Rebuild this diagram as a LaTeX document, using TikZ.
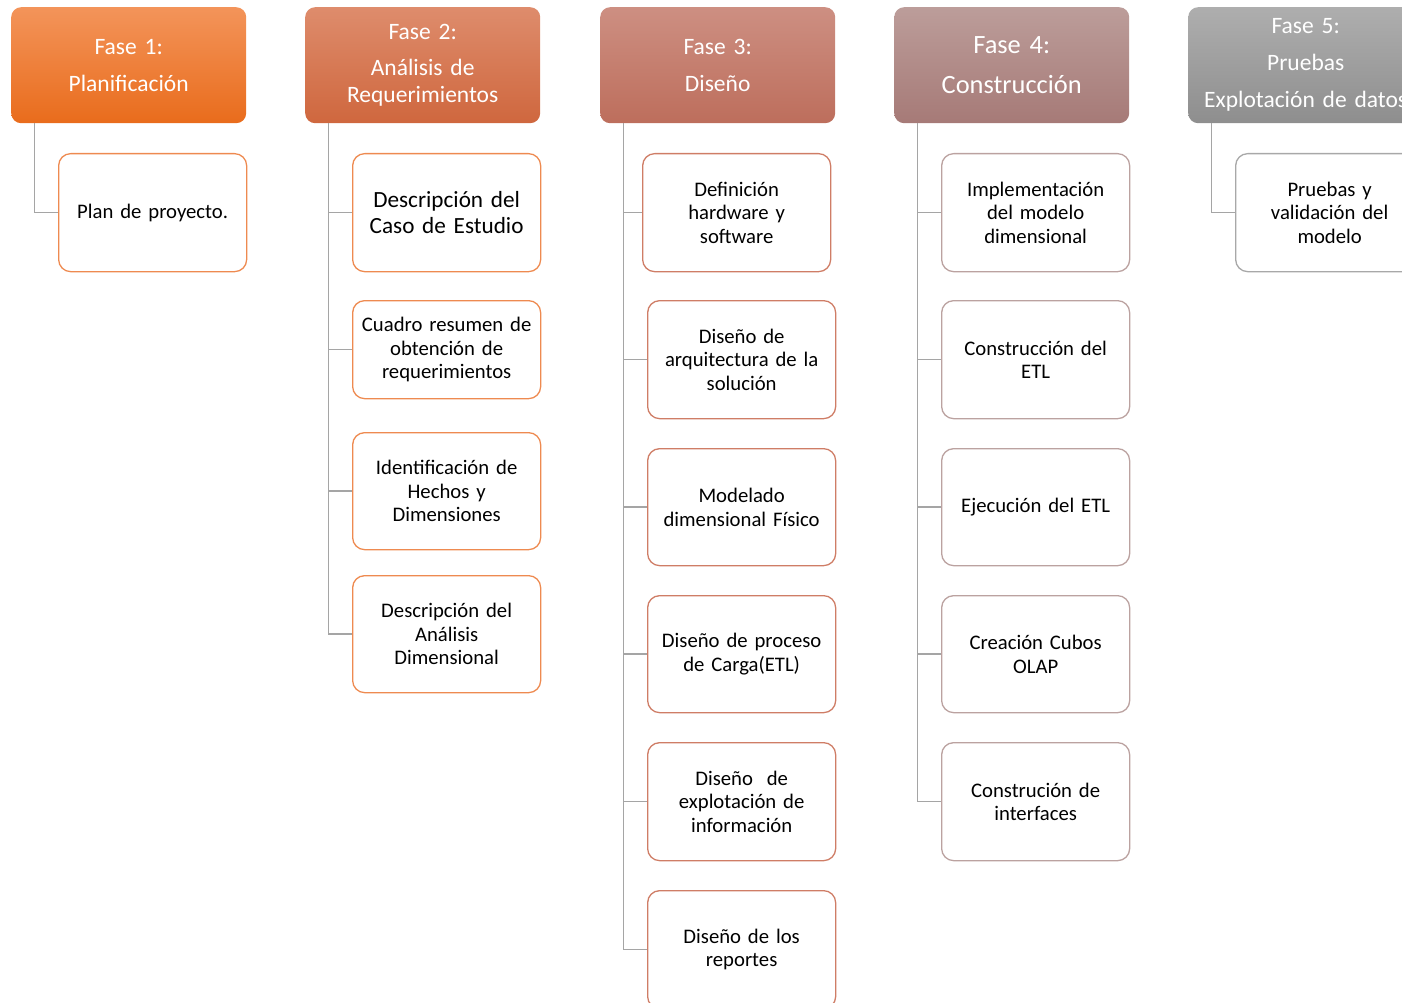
\documentclass[tikz,border=0pt]{standalone}
\usepackage{fontspec}
\setmainfont{Carlito}
\usetikzlibrary{calc}
\definecolor{h1t}{HTML}{F3945A}\definecolor{h1b}{HTML}{E96C1C}
\definecolor{h2t}{HTML}{DE8C6C}\definecolor{h2b}{HTML}{CF673E}
\definecolor{h3t}{HTML}{CD8F82}\definecolor{h3b}{HTML}{BD6E5C}
\definecolor{h4t}{HTML}{BC9D9A}\definecolor{h4b}{HTML}{A67A77}
\definecolor{h5t}{HTML}{AEAEAE}\definecolor{h5b}{HTML}{8E8E8E}
\definecolor{b1}{HTML}{EE8A50}
\definecolor{b3}{HTML}{CF7D66}
\definecolor{b4}{HTML}{BBA2A0}
\definecolor{b5}{HTML}{A8A8A8}
\definecolor{conn}{HTML}{A5A5A5}
\tikzset{
  hdr/.style={anchor=north west, rounded corners=10pt, minimum width=235pt, minimum height=116pt,
    inner sep=0pt, text width=232pt, align=center, text=white,
    font=\fontsize{23.5}{27}\selectfont},
  kid/.style={anchor=north west, rounded corners=12pt, draw, line width=1.3pt, fill=white,
    minimum width=188pt, minimum height=118pt, inner sep=0pt, text width=186pt, align=center,
    font=\fontsize{20.7}{23.5}\selectfont},
  link/.style={draw=conn, line width=1.5pt}
}
\begin{document}
\begin{tikzpicture}[x=1pt,y=-1pt]
\useasboundingbox (0,0) rectangle (1402,1003);
\clip (0,0) rectangle (1402,1003);
% headers
\node[hdr, top color=h1t, bottom color=h1b] (h1) at (11,7) {Fase 1:\\[10pt]Planificación};
\node[hdr, top color=h2t, bottom color=h2b] (h2) at (305,7) {Fase 2:\\[9pt]Análisis de\\Requerimientos};
\node[hdr, top color=h3t, bottom color=h3b] (h3) at (600,7) {Fase 3:\\[10pt]Diseño};
\node[hdr, top color=h4t, bottom color=h4b, font=\fontsize{26.4}{30}\selectfont] (h4) at (894,7) {Fase 4:\\[10pt]Construcción};
\node[hdr, top color=h5t, bottom color=h5b] (h5) at (1188,7) {Fase 5:\\[10pt]Pruebas\\[10pt]Explotación de datos};
% phase 1
\node[kid, draw=b1] (c11) at (58,153) {Plan de proyecto.};
% phase 2
\node[kid, draw=b1, font=\fontsize{23.2}{26.5}\selectfont] (c21) at (352,153) {Descripción del\\Caso de Estudio};
\node[kid, draw=b1, minimum height=98pt] (c22) at (352,300) {Cuadro resumen de\\obtención de\\requerimientos};
\node[kid, draw=b1, minimum height=117pt] (c23) at (352,432) {Identificación de\\Hechos y\\Dimensiones};
\node[kid, draw=b1, minimum height=117pt] (c24) at (352,575) {Descripción del\\Análisis\\Dimensional};
% phase 3
\node[kid, draw=b3] (c31) at (642,153) {Definición\\hardware y\\software};
\node[kid, draw=b3] (c32) at (647,300) {Diseño de\\arquitectura de la\\solución};
\node[kid, draw=b3, minimum height=117pt] (c33) at (647,448) {Modelado\\dimensional Físico};
\node[kid, draw=b3, minimum height=117pt] (c34) at (647,595) {Diseño de proceso\\de Carga(ETL)};
\node[kid, draw=b3] (c35) at (647,742) {Diseño~ de\\explotación de\\información};
\node[kid, draw=b3] (c36) at (647,890) {Diseño de los\\reportes};
% phase 4
\node[kid, draw=b4] (c41) at (941,153) {Implementación\\del modelo\\dimensional};
\node[kid, draw=b4] (c42) at (941,300) {Construcción del\\ETL};
\node[kid, draw=b4, minimum height=117pt] (c43) at (941,448) {Ejecución del ETL};
\node[kid, draw=b4, minimum height=117pt] (c44) at (941,595) {Creación Cubos\\OLAP};
\node[kid, draw=b4] (c45) at (941,742) {Construción de\\interfaces};
% phase 5
\node[kid, draw=b5] (c51) at (1235,153) {Pruebas y\\validación del\\modelo};
% connectors
\foreach \h/\c in {h1/c11, h2/c21, h2/c22, h2/c23, h2/c24, h3/c31, h3/c32, h3/c33, h3/c34, h3/c35, h3/c36,
  h4/c41, h4/c42, h4/c43, h4/c44, h4/c45, h5/c51}
  \draw[link] ($(\h.south west)+(23.5,0)$) |- (\c.west);
\end{tikzpicture}
\end{document}
